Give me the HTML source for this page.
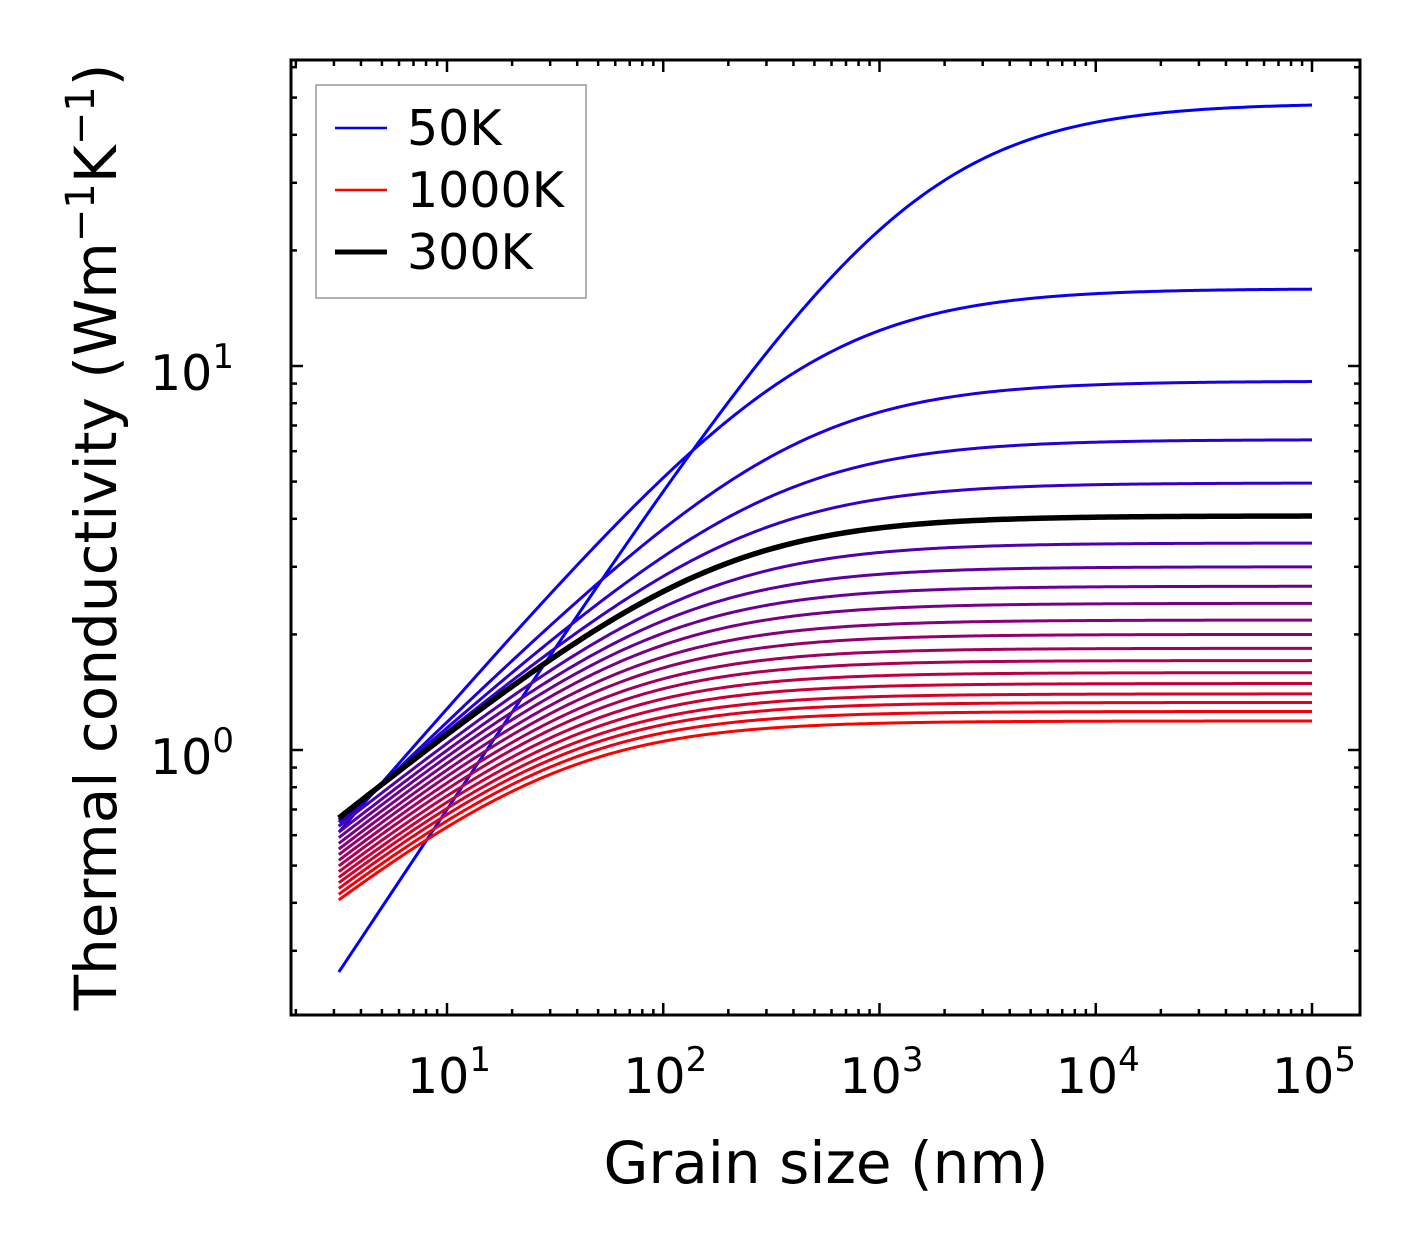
<!DOCTYPE html>
<html><head><meta charset="utf-8"><style>
body{margin:0;background:#fff}
svg{display:block;font-family:"DejaVu Sans","Liberation Sans",sans-serif}
</style></head><body>
<svg id="chart" width="1421" height="1254" viewBox="0 0 1421 1254" xmlns="http://www.w3.org/2000/svg">
<g id="curves"></g>
<g id="ticks"></g>
<rect x="291" y="60" width="1069" height="955" fill="none" stroke="#000" stroke-width="3"/>
<g id="labels" font-size="49"></g>
<text x="826" y="1183" font-size="58" text-anchor="middle">Grain size (nm)</text>
<text transform="translate(116,537) rotate(-90)" font-size="58" text-anchor="middle">Thermal conductivity (Wm<tspan dy="-22" font-size="40">−1</tspan><tspan dy="22">K</tspan><tspan dy="-22" font-size="40">−1</tspan><tspan dy="22">)</tspan></text>
<g>
<rect x="316" y="85" width="270" height="213" fill="#fff" stroke="#999" stroke-width="1.5"/>
<line x1="335" y1="128" x2="387" y2="128" stroke="#0000ff" stroke-width="2.5"/>
<text x="407" y="145" font-size="49">50K</text>
<line x1="335" y1="190" x2="387" y2="190" stroke="#ff0000" stroke-width="2.5"/>
<text x="407" y="207" font-size="49">1000K</text>
<line x1="335" y1="252" x2="387" y2="252" stroke="#000" stroke-width="5"/>
<text x="407" y="269" font-size="49">300K</text>
</g>
</svg>
<script>
const temps=[50,100,150,200,250,300,350,400,450,500,550,600,650,700,750,800,850,900,950,1000];
const Lmin=3.16, Lmax=1e5;
// conductivity at smallest grain size (W/mK)
const kStart=[0.264,0.611,0.633,0.649,0.658,0.665,0.633,0.611,0.591,0.571,0.552,0.534,0.516,0.499,0.482,0.466,0.451,0.436,0.421,0.407];
// bulk conductivity (W/mK)
const kEnd=[48.4,15.9,9.13,6.43,4.96,4.07,3.46,3.0,2.67,2.41,2.18,2.0,1.84,1.71,1.59,1.49,1.40,1.33,1.26,1.19];
// shape exponent
const shapeN=[0.85,0.65,0.55,0.5,0.47,0.45,0.45,0.45,0.45,0.45,0.45,0.45,0.45,0.45,0.45,0.45,0.45,0.45,0.45,0.45];
const xTicks=[1,2,3,4,5];
const yTicks=[0,1];
const NS="http://www.w3.org/2000/svg";
const X=v=>447+(Math.log10(v)-1)*216.25;
const Y=v=>750-Math.log10(v)*384;
const cg=document.getElementById('curves');
const order=temps.map((t,i)=>i).filter(i=>temps[i]!==300).concat(temps.indexOf(300));
order.forEach(i=>{
  const n=shapeN[i];
  const a=Lmin*(Math.pow(kEnd[i]/kStart[i],1/n)-1);
  let d='';
  for(let s=0;s<=300;s++){
    const L=Lmin*Math.pow(Lmax/Lmin,s/300);
    const k=kEnd[i]*Math.pow(1+a/L,-n);
    d+=(s?'L':'M')+X(L).toFixed(2)+' '+Y(k).toFixed(2);
  }
  const f=i/(temps.length-1);
  const col=temps[i]===300?'#000':`rgb(${Math.round(255*f)},0,${Math.round(255*(1-f))})`;
  const p=document.createElementNS(NS,'path');
  p.setAttribute('d',d);p.setAttribute('fill','none');p.setAttribute('stroke',col);
  p.setAttribute('stroke-width',temps[i]===300?5.5:3);
  
  
  cg.appendChild(p);
});
const tg=document.getElementById('ticks');
function tick(x1,y1,x2,y2){const l=document.createElementNS(NS,'line');
l.setAttribute('x1',x1);l.setAttribute('y1',y1);l.setAttribute('x2',x2);l.setAttribute('y2',y2);
l.setAttribute('stroke','#000');l.setAttribute('stroke-width',2.5);


tg.appendChild(l);}
for(let e=0;e<=5;e++)for(let m=1;m<10;m++){const v=m*Math.pow(10,e);const x=X(v);
 if(x<292||x>1359)continue;const len=m===1?12:6;tick(x,1015,x,1015-len);tick(x,60,x,60+len);}
for(let e=-1;e<=1;e++)for(let m=1;m<10;m++){const v=m*Math.pow(10,e);const y=Y(v);
 if(y<61||y>1014)continue;const len=m===1?12:6;tick(291,y,291+len,y);tick(1360,y,1360-len,y);}
const lg=document.getElementById('labels');
xTicks.forEach(e=>{const t=document.createElementNS(NS,'text');
t.setAttribute('x',X(Math.pow(10,e))+2);t.setAttribute('y',1093);t.setAttribute('text-anchor','middle');
t.innerHTML='10<tspan dy="-22" font-size="34">'+e+'</tspan>';


lg.appendChild(t);});
yTicks.forEach(e=>{const t=document.createElementNS(NS,'text');
t.setAttribute('x',234);t.setAttribute('y',Y(Math.pow(10,e))+24);t.setAttribute('text-anchor','end');
t.innerHTML='10<tspan dy="-22" font-size="34">'+e+'</tspan>';


lg.appendChild(t);});
</script>
</body></html>
